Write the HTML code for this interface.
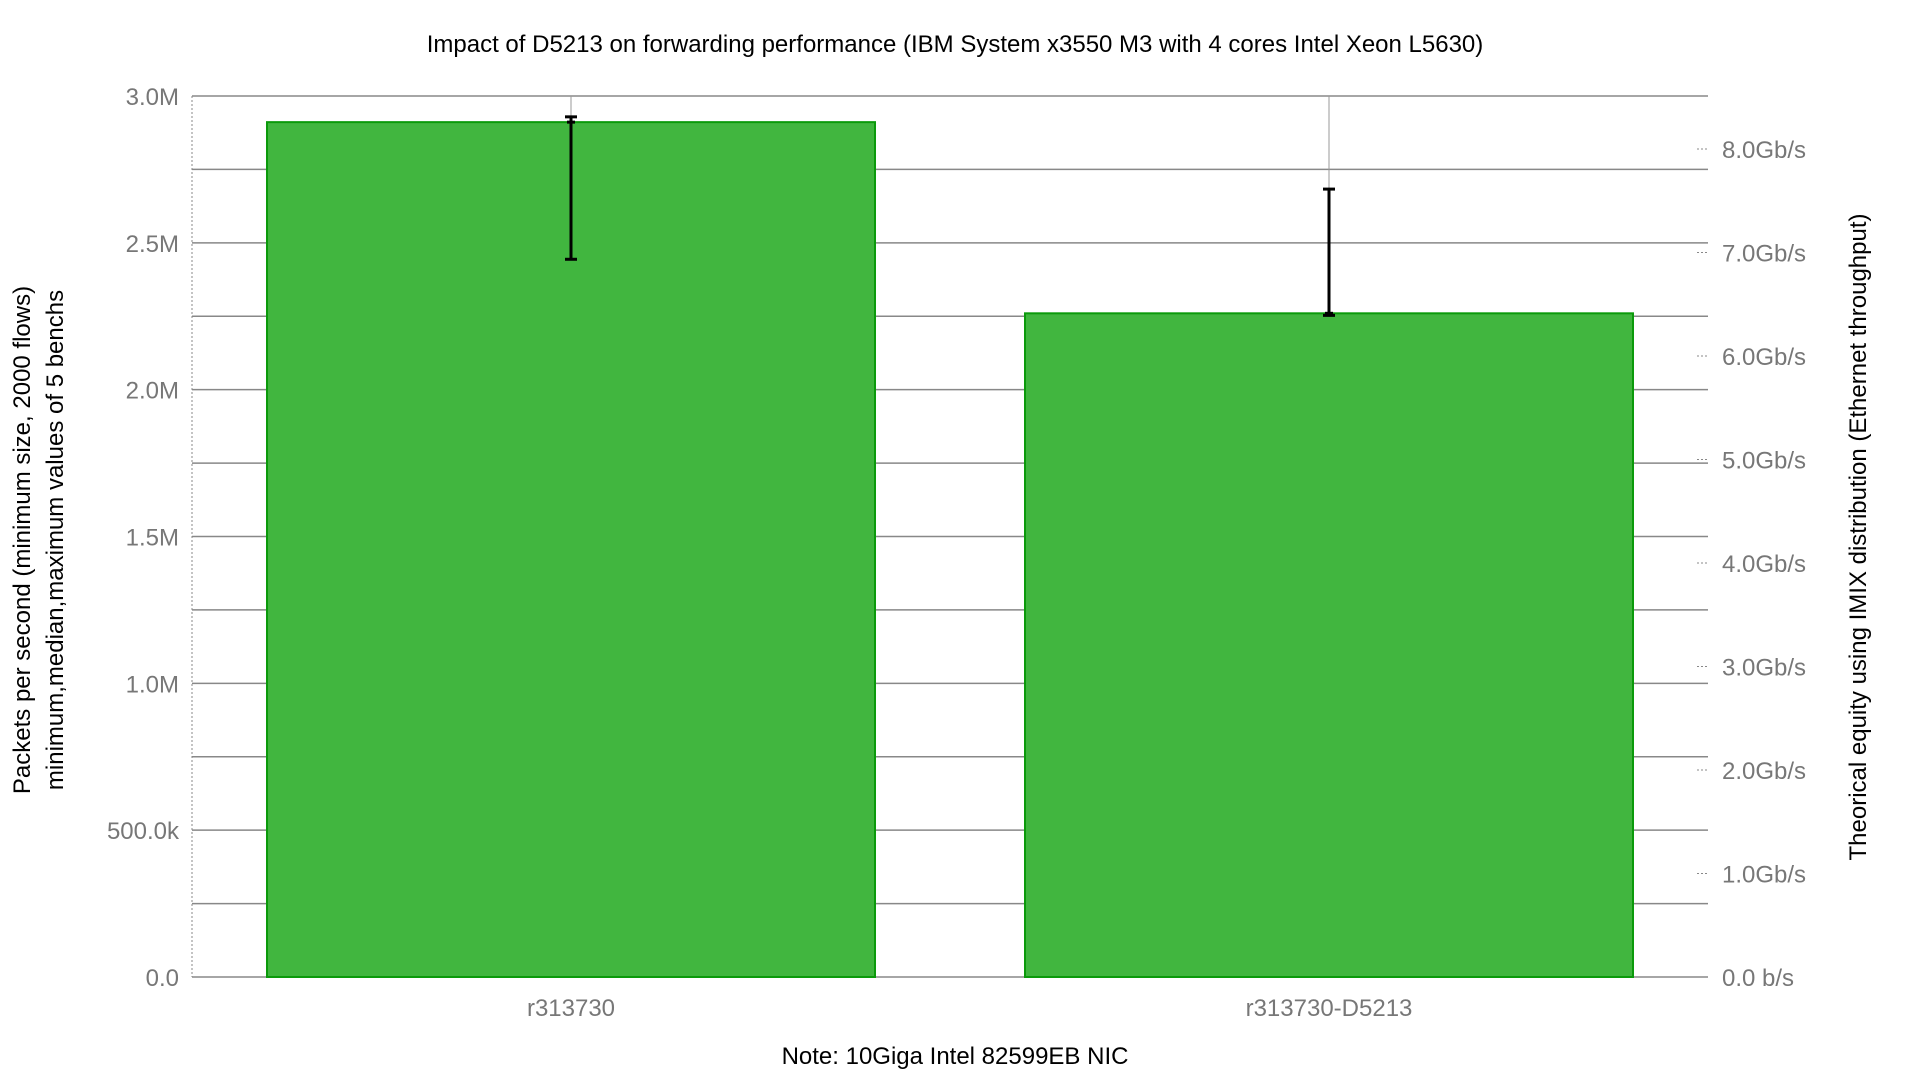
<!DOCTYPE html>
<html><head><meta charset="utf-8"><style>
html,body{margin:0;padding:0;background:#fff;width:1920px;height:1080px;overflow:hidden}
svg text{font-family:"Liberation Sans",sans-serif}
</style></head><body>
<svg id="chart" width="1920" height="1080">
<text x="955" y="52" text-anchor="middle" font-size="24" fill="#000">Impact of D5213 on forwarding performance (IBM System x3550 M3 with 4 cores Intel Xeon L5630)</text>
<g id="grid"></g>
<g id="bars"></g>
<g id="axes"></g>
<text transform="translate(30,540) rotate(-90)" text-anchor="middle" font-size="24">Packets per second (minimum size, 2000 flows)</text>
<text transform="translate(63,540) rotate(-90)" text-anchor="middle" font-size="24">minimum,median,maximum values of 5 benchs</text>
<text transform="translate(1866,537) rotate(-90)" text-anchor="middle" font-size="24">Theorical equity using IMIX distribution (Ethernet throughput)</text>
<text x="955" y="1064" text-anchor="middle" font-size="24">Note:  10Giga Intel 82599EB NIC</text>
</svg>
<script>
const categories = ["r313730", "r313730-D5213"];
const medians = [2.911e6, 2.26e6];
const mins = [2.444e6, 2.253e6];
const maxs = [2.929e6, 2.683e6];
const leftTicks = [0, 0.5e6, 1.0e6, 1.5e6, 2.0e6, 2.5e6, 3.0e6];
const leftTickLabels = ["0.0", "500.0k", "1.0M", "1.5M", "2.0M", "2.5M", "3.0M"];
const rightTicks = [0, 1, 2, 3, 4, 5, 6, 7, 8];
const rightTickLabels = ["0.0 b/s","1.0Gb/s","2.0Gb/s","3.0Gb/s","4.0Gb/s","5.0Gb/s","6.0Gb/s","7.0Gb/s","8.0Gb/s"];

const NS = "http://www.w3.org/2000/svg";
const L = 192, R = 1708, T = 96, B = 977;
const yMax = 3.0e6;
const y = v => B - v / yMax * (B - T);
const yR = g => B - g * 103.5;
const band = (R - L) / categories.length;
const xc = i => L + band * (i + 0.5);
function mk(tag, attrs, parent) { const e = document.createElementNS(NS, tag); for (const k in attrs) e.setAttribute(k, attrs[k]); parent.appendChild(e); return e; }
const grid = document.getElementById('grid'), bars = document.getElementById('bars'), axes = document.getElementById('axes');

for (let v = 0; v <= yMax + 1; v += 0.25e6) {
  const l = mk('line', {x1: L, x2: R, y1: y(v), y2: y(v), stroke: '#888', 'stroke-width': 1.5}, grid);
  
  
}
categories.forEach((c, i) => {
  const l = mk('line', {x1: xc(i), x2: xc(i), y1: T, y2: B, stroke: '#999', 'stroke-width': 1}, grid);
  
  
});
mk('line', {x1: L, x2: L, y1: T, y2: B, stroke: '#888', 'stroke-width': 1, 'stroke-dasharray': '2,2'}, axes);

const bw = 608;
categories.forEach((c, i) => {
  const r = mk('rect', {x: xc(i) - bw / 2, y: y(medians[i]), width: bw, height: B - y(medians[i]), fill: '#41b63f', stroke: '#0b9a0b', 'stroke-width': 2}, bars);
  
  
  const g = mk('g', {stroke: '#000', 'stroke-width': 3}, bars);
  
  
  mk('line', {x1: xc(i), x2: xc(i), y1: y(maxs[i]), y2: y(mins[i])}, g);
  mk('line', {x1: xc(i) - 6, x2: xc(i) + 6, y1: y(maxs[i]), y2: y(maxs[i])}, g);
  mk('line', {x1: xc(i) - 6, x2: xc(i) + 6, y1: y(mins[i]), y2: y(mins[i])}, g);
  mk('line', {x1: xc(i) - 4, x2: xc(i) + 4, y1: y(medians[i]), y2: y(medians[i])}, g);
  const t = mk('text', {x: xc(i), y: 1016, 'text-anchor': 'middle', 'font-size': 24, fill: '#777'}, axes);
  t.textContent = c;
  
  
});
leftTicks.forEach((v, i) => {
  const t = mk('text', {x: 179, y: y(v) + 9, 'text-anchor': 'end', 'font-size': 24, fill: '#777'}, axes);
  t.textContent = leftTickLabels[i];
  
  
});
rightTicks.forEach((g, i) => {
  mk('line', {x1: 1697, x2: 1708, y1: yR(g), y2: yR(g), stroke: '#888', 'stroke-width': 1, 'stroke-dasharray': '2,2'}, axes);
  const t = mk('text', {x: 1722, y: yR(g) + 9, 'font-size': 24, fill: '#777'}, axes);
  t.textContent = rightTickLabels[i];
  
  
});
</script>
</body></html>
